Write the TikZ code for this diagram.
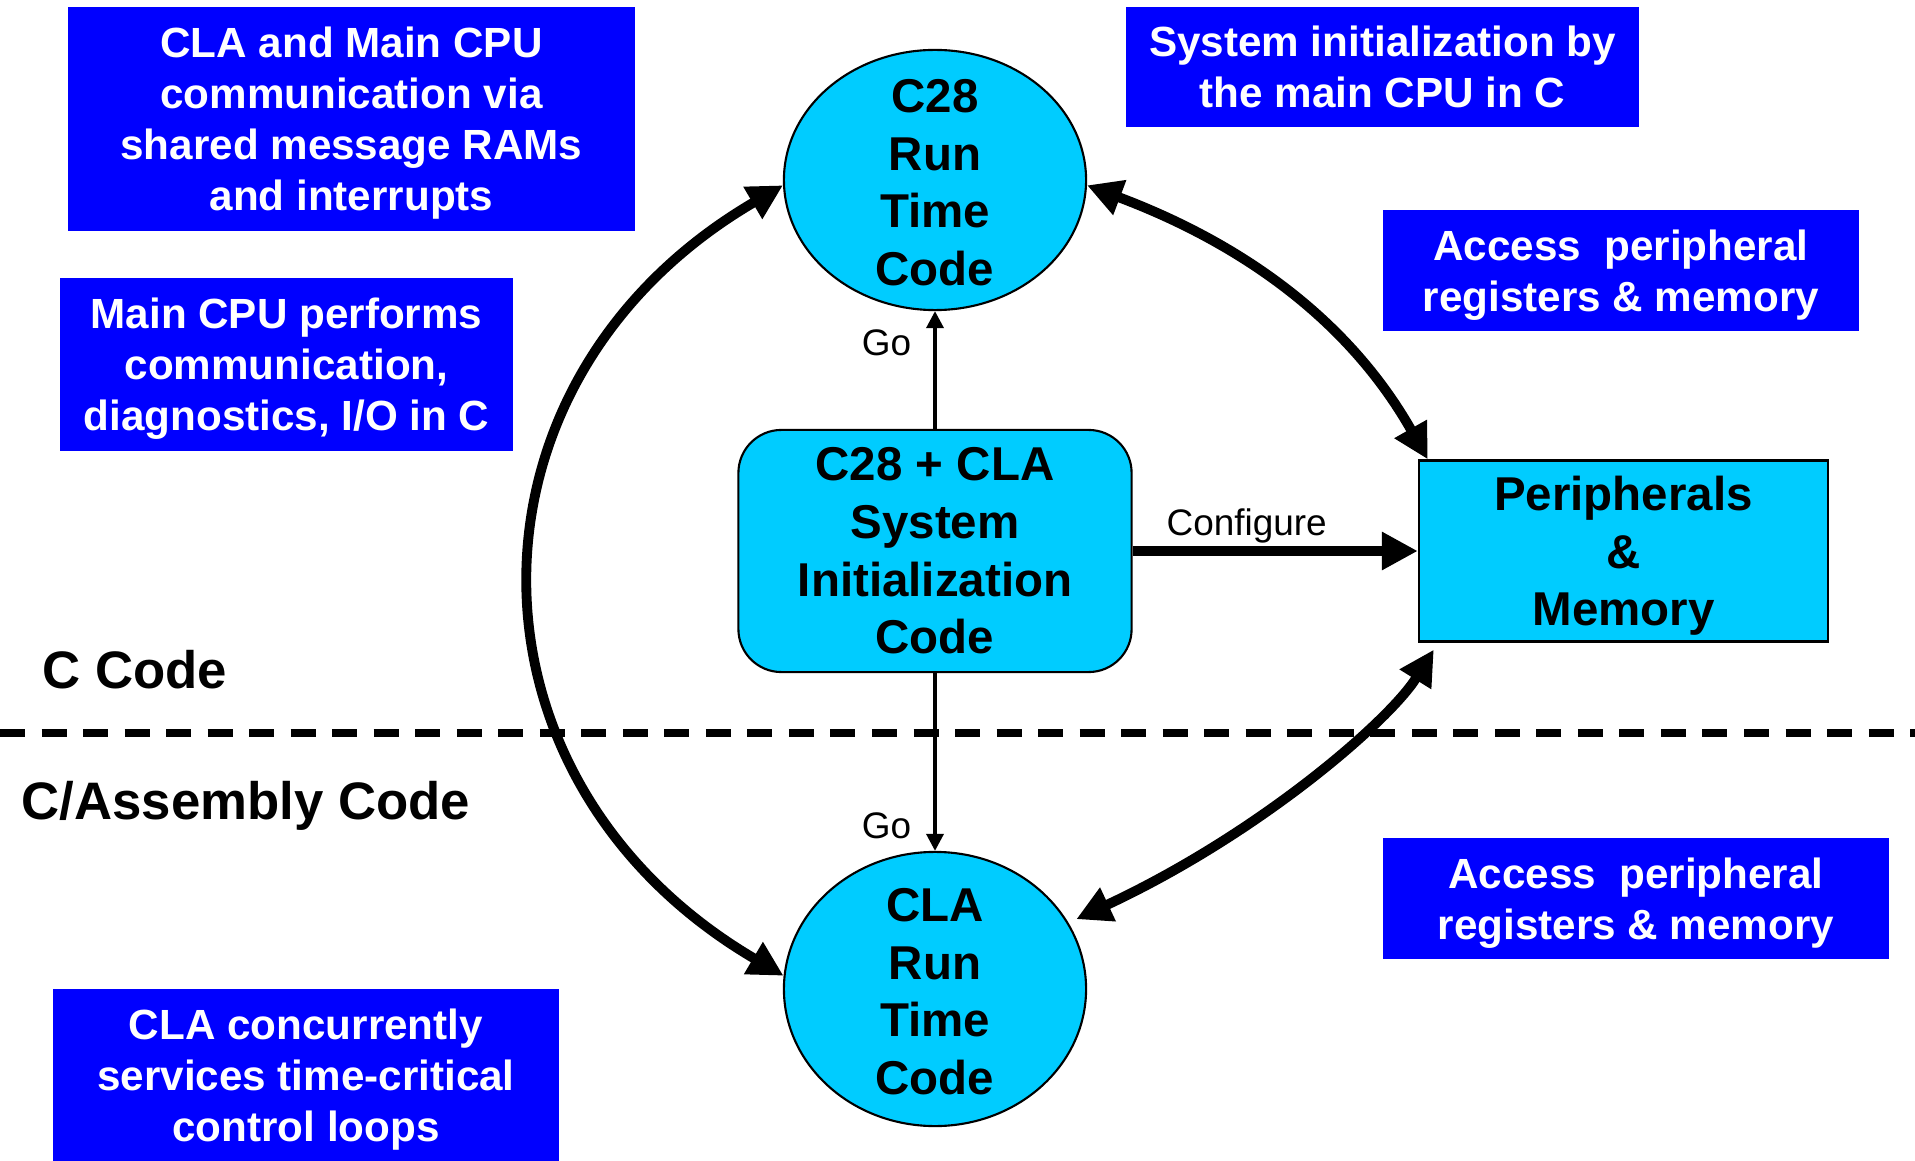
\documentclass[tikz,border=0pt]{standalone}
\usepackage{fontspec}
\setmainfont{Liberation Sans}
\usepackage{tikz}
\usetikzlibrary{positioning,shapes.geometric,arrows.meta,calc}

\definecolor{nodecyan}{RGB}{0,204,255}
\definecolor{notebg}{RGB}{0,0,255}

\begin{document}
\begin{tikzpicture}[x=0.01cm, y=-0.01cm,
        notebox/.style={rectangle, fill=notebg, text=white, align=center, inner sep=0pt, text depth=0pt, font=\fontsize{12}{14.5}\selectfont\bfseries},
        runnode/.style={ellipse, draw=black, fill=nodecyan, line width=0.6pt, minimum width=3.02cm, minimum height=2.6cm, inner sep=0pt},
        runtext/.style={align=center, inner sep=0pt, yshift=-0.025cm, font=\fontsize{13.5}{16.4}\selectfont\bfseries},
        initnode/.style={rectangle, rounded corners=0.43cm, draw=black, fill=nodecyan, line width=0.6pt, align=center, inner sep=0pt, font=\fontsize{13.5}{16.4}\selectfont\bfseries},
        memnode/.style={rectangle, draw=black, fill=nodecyan, line width=0.6pt, align=center, inner sep=0pt, text depth=0pt, font=\fontsize{13.5}{16.4}\selectfont\bfseries},
        zonelabel/.style={inner sep=0pt, font=\fontsize{15}{18}\selectfont\bfseries},
        golabel/.style={inner sep=0pt, font=\fontsize{10.5}{12}\selectfont},
        goarrow/.style={line width=1pt, -{Triangle[length=0.17cm, width=0.17cm]}},
        bigarrow/.style={line width=2.8pt, {Triangle[length=0.35cm, width=0.35cm]}-{Triangle[length=0.35cm, width=0.35cm]}},
        confarrow/.style={line width=2.8pt, -{Triangle[length=0.36cm, width=0.36cm]}},
        divider/.style={line width=2pt, dash pattern=on 0.25cm off 0.165cm}]

        \useasboundingbox (0,0) rectangle (1915,1161);

        % notes
        \node[notebox, minimum width=5.67cm, minimum height=2.24cm] (note1) at (351.5,119) {CLA and Main CPU\\communication via\\shared message RAMs\\and interrupts};
        \node[notebox, minimum width=4.53cm, minimum height=1.73cm] (note2) at (286.5,364.5) {Main CPU performs\\communication,\\diagnostics, I/O in C};
        \node[notebox, minimum width=5.06cm, minimum height=1.72cm] (note3) at (306,1075) {CLA concurrently\\services time-critical\\control loops};
        \node[notebox, minimum width=5.13cm, minimum height=1.2cm] (note4) at (1382.5,67) {System initialization by\\the main CPU in C};
        \node[notebox, minimum width=4.76cm, minimum height=1.21cm] (note5) at (1621,270.5) {Access~~peripheral\\registers \& memory};
        \node[notebox, minimum width=5.06cm, minimum height=1.21cm] (note6) at (1636,898.5) {Access~~peripheral\\registers \& memory};

        % code split
        \draw[divider] (0,733) -- (1915,733);
        \node[zonelabel, anchor=base west] (ccode) at (42,688) {C Code};
        \node[zonelabel, anchor=base west] (asmcode) at (21,819) {C/Assembly Code};

        % main blocks
        \node[runnode, label={[runtext]center:{C28\\Run\\Time\\Code}}] (c28) at (935,180) {};
        \node[runnode, minimum height=2.74cm, label={[runtext]center:{CLA\\Run\\Time\\Code}}] (cla) at (935,989) {};
        \node[initnode, minimum width=3.93cm, minimum height=2.42cm] (init) at (935,551) {C28 + CLA\\System\\Initialization\\Code};
        \node[memnode, minimum width=4.09cm, minimum height=1.81cm] (per) at (1623.5,551) {Peripherals\\\&\\Memory};

        % connectors
        \draw[goarrow] (init) -- node[golabel, pos=0.73, left=0.22cm] {Go} (c28);
        \draw[goarrow] (init) -- node[golabel, pos=0.86, left=0.22cm] {Go} (cla);
        \draw[confarrow] (init) -- node[golabel, pos=0.4, above=0.03cm] {Configure} (per);

        \draw[bigarrow] (c28.182) .. controls (450,380) and (450,780) .. (cla.175);
        \draw[bigarrow] (c28.358) .. controls (1254,248) and (1354,329) .. ($(per.north west)+(10,0)$);
        \draw[bigarrow] ($(cla.28)+(10,0)$) .. controls (1261,833) and (1390,720) .. ($(per.south west)+(16,7)$);

\end{tikzpicture}
\end{document}
